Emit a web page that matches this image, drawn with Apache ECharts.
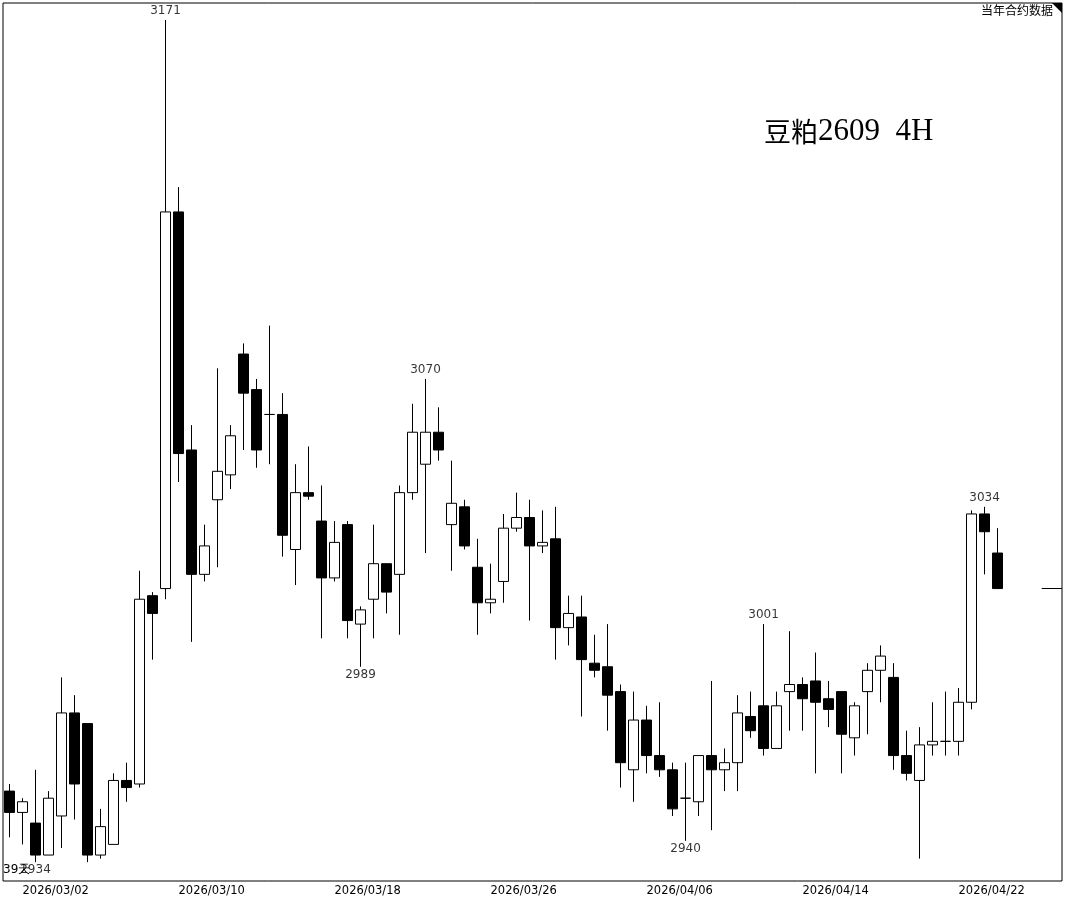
<!DOCTYPE html>
<html>
<head>
<meta charset="utf-8">
<style>html,body{margin:0;padding:0;background:#fff;}#main{width:1065px;height:901px;}</style>
<script src="https://cdn.jsdelivr.net/npm/echarts@6/dist/echarts.min.js"></script>
</head>
<body>
<div id="main"></div>
<script>
// ---- data (4H candles, soybean meal 2609) ----
const opens  = [2954,2948,2945,2936,2947,2976,2973,2936,2939,2957,2956,3009,3011,3117,3050,3015,3036,3043,3077,3067,
                3060,3060,3022,3038,3030,3014,3029,3001,3008,3018,3015,3038,3046,3055,3029,3034,3017,3007,3013,3028,
                3031,3023,3025,3000,3003,2990,2989,2982,2960,2974,2964,2960,2952,2951,2964,2960,2962,2975,2978,2966,
                2982,2984,2985,2980,2982,2969,2982,2988,2986,2964,2957,2967,2968,2968,2979,3032,3021];
const closes = [2948,2951,2936,2952,2976,2956,2936,2944,2957,2955,3008,3004,3117,3049,3015,3023,3044,3054,3066,3050,
                3060,3026,3038,3037,3014,3024,3002,3005,3018,3010,3038,3055,3055,3050,3035,3023,3007,3008,3028,3031,
                3023,3024,3000,3004,2991,2988,2981,2962,2974,2964,2960,2949,2952,2964,2960,2962,2976,2971,2966,2978,
                2984,2980,2979,2977,2970,2978,2988,2992,2964,2959,2967,2968,2968,2979,3032,3027,3011];
const lows   = [2941,2939,2934,2936,2938,2946,2934,2935,2939,2951,2955,2991,3008,3041,2996,3013,3017,3039,3050,3045,
                3046,3020,3012,3036,2997,3013,2997,2989,2997,3004,2998,3036,3021,3047,3016,3022,2998,3004,3007,3027,
                3002,3021,2991,2995,2975,2986,2971,2955,2951,2959,2958,2947,2940,2947,2943,2954,2954,2969,2964,2966,
                2971,2971,2959,2972,2959,2964,2970,2979,2960,2957,2935,2964,2964,2964,2977,3015,3011];
const highs  = [2956,2952,2960,2954,2986,2981,2973,2949,2959,2962,3016,3010,3171,3124,3057,3029,3073,3057,3080,3070,
                3085,3066,3046,3051,3040,3030,3030,3006,3029,3018,3040,3063,3070,3062,3047,3036,3025,3018,3032,3038,
                3036,3033,3034,3009,3009,2998,3001,2984,2982,2978,2979,2962,2962,2964,2985,2966,2981,2982,3001,2982,
                2999,2986,2993,2985,2982,2979,2990,2995,2990,2971,2972,2979,2982,2983,3033,3034,3028];
const dateTicks     = ['2026/03/02','2026/03/10','2026/03/18','2026/03/26','2026/04/06','2026/04/14','2026/04/22'];
const dateTickIndex = [1,13,25,37,49,61,73];
const highMarkIdx   = [12,32,58,75];
const lowMarkIdx    = [2,27,52];
const titleText     = ['豆粕', '2609  4H'];
const cornerText    = '当年合约数据';
const daysText      = '39天';

const candleData = opens.map((o, i) => [i, o, closes[i], lows[i], highs[i]]);
const lastClose = closes[closes.length - 1];

const chart = echarts.init(document.getElementById('main'), null, {renderer: 'canvas'});
chart.setOption({
  animation: false,
  backgroundColor: '#fff',
  title: {
    text: '{cn|' + titleText[0] + '}{num|' + titleText[1] + '}',
    left: 759, top: 111,
    textStyle: {
      rich: {
        cn:  {fontFamily: 'Noto Sans CJK SC', fontSize: 27, color: '#000', fontWeight: 'normal'},
        num: {fontFamily: 'Liberation Serif', fontSize: 31, color: '#000', fontWeight: 'normal'}
      }
    }
  },
  grid: {left: 3, right: 3, top: 3, bottom: 20, show: true, borderColor: '#000', borderWidth: 1, backgroundColor: '#fff'},
  xAxis: {
    type: 'value', min: -0.5, max: 80.96,
    axisLine: {show: false}, axisTick: {show: false}, splitLine: {show: false},
    axisLabel: {
      customValues: dateTickIndex,
      formatter: v => dateTicks[dateTickIndex.indexOf(Math.round(v))] || '',
      align: 'left', margin: 4, color: '#000', fontSize: 11.5, fontFamily: 'DejaVu Sans'
    }
  },
  yAxis: {type: 'value', min: 2928.7, max: 3175.8, show: false, splitLine: {show: false}},
  graphic: [
    {type: 'polygon', shape: {points: [[1052, 3], [1062, 3], [1062, 13]]}, style: {fill: '#000'}},
    {type: 'text', right: 12, top: 4, style: {text: cornerText, font: '12px "Noto Sans CJK SC"', fill: '#000'}},
    {type: 'text', left: 3, top: 864, style: {text: daysText, font: '12px "DejaVu Sans"', fill: '#000'}}
  ],
  series: [
    {
      type: 'candlestick',
      data: candleData,
      dimensions: ['x', 'open', 'close', 'lowest', 'highest'],
      encode: {x: 0, y: [1, 2, 3, 4]},
      barWidth: 10,
      itemStyle: {
        color: '#fff', color0: '#000',
        borderColor: '#000', borderColor0: '#000', borderColorDoji: '#000',
        borderWidth: 1
      },
      markLine: {
        silent: true, symbol: ['none', 'none'],
        label: {show: false},
        lineStyle: {color: '#000', width: 1, type: 'solid'},
        data: [[{coord: [79.4, lastClose]}, {coord: [80.96, lastClose]}]]
      }
    },
    {
      type: 'scatter', symbolSize: 0, silent: true,
      data: highMarkIdx.map(i => [i, highs[i]]),
      label: {show: true, position: 'top', distance: 3, formatter: p => String(p.value[1]),
              color: '#000', fontSize: 12, fontFamily: 'DejaVu Sans'}
    },
    {
      type: 'scatter', symbolSize: 0, silent: true,
      data: lowMarkIdx.map(i => [i, lows[i]]),
      label: {show: true, position: 'bottom', distance: 2, formatter: p => String(p.value[1]),
              color: '#000', fontSize: 12, fontFamily: 'DejaVu Sans'}
    }
  ]
});
</script>
</body>
</html>
